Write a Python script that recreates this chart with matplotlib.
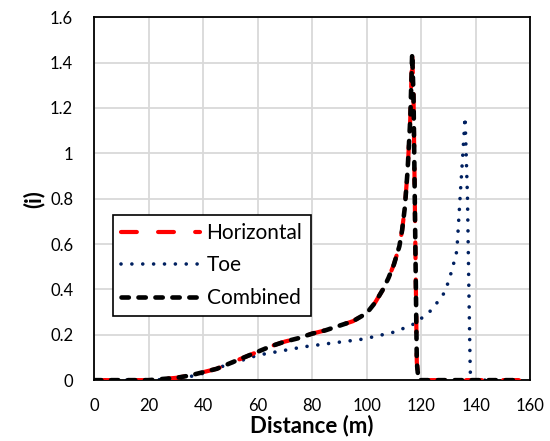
import numpy as np
import matplotlib
matplotlib.use("Agg")
import matplotlib.pyplot as plt

plt.rcParams['font.family'] = ['Lato', 'DejaVu Sans']

# Horizontal / Combined (same curve)
dist_h = [0, 10, 20, 30, 35, 40, 45, 50, 55, 60, 65, 70, 75, 80, 85, 90, 95, 100,
          103, 106, 108, 110, 112, 113, 114, 115, 116, 116.7, 117.2, 117.8, 118.4, 119,
          130, 140, 150, 157]
i_horizontal = [0, 0, 0, 0.01, 0.02, 0.035, 0.05, 0.075, 0.10, 0.125, 0.15, 0.17, 0.185,
                0.205, 0.22, 0.24, 0.26, 0.295, 0.34, 0.40, 0.45, 0.51, 0.59, 0.66, 0.76,
                0.92, 1.15, 1.44, 1.25, 0.66, 0.08, 0, 0, 0, 0, 0]
i_combined = list(i_horizontal)

# Toe
dist_t = [0, 10, 20, 30, 35, 40, 45, 50, 55, 60, 67, 77, 87, 97.6, 102.5, 110.5, 117.8,
          123.9, 128.8, 131.3, 133.1, 134.3, 135.3, 136.1, 137, 137.5, 138, 138.3, 157]
i_toe = [0, 0, 0, 0.005, 0.015, 0.03, 0.05, 0.075, 0.09, 0.11, 0.125, 0.147, 0.163, 0.179,
         0.191, 0.213, 0.25, 0.31, 0.39, 0.485, 0.57, 0.81, 1.0, 1.16, 0.8, 0.4, 0.04, 0, 0]

fig = plt.figure(figsize=(5.5, 4.41), dpi=100)
ax = fig.add_axes([0.171, 0.138, 0.793, 0.823])

ax.plot(dist_h, i_horizontal, color="#ff0000", lw=3, dashes=(3.8, 5.1),
        dash_capstyle="round", label="Horizontal", zorder=3)
ax.plot(dist_t, i_toe, color="#002060", lw=2.6, dashes=(0.01, 3),
        dash_capstyle="round", label="Toe", zorder=2)
ax.plot(dist_h, i_combined, color="black", lw=3.3, dashes=(1.6, 2.1),
        dash_capstyle="round", label="Combined", zorder=4)

ax.set_xlim(0, 160)
ax.set_ylim(0, 1.6)
ax.set_xticks(np.arange(0, 161, 20))
ax.set_yticks(np.arange(0, 1.61, 0.2))
ax.set_yticklabels(["0", "0.2", "0.4", "0.6", "0.8", "1", "1.2", "1.4", "1.6"])
ax.tick_params(axis="x", length=0, labelsize=12, pad=13)
ax.tick_params(axis="y", length=0, labelsize=12, pad=15)
ax.grid(True, color="#d9d9d9", lw=1.3)
ax.set_axisbelow(True)
for s in ax.spines.values():
    s.set_color("black")
    s.set_linewidth(1.3)

ax.set_xlabel("Distance (m)", fontsize=16, fontweight="bold", labelpad=0)
ax.set_ylabel("(i)", fontsize=16, fontweight="bold", labelpad=4)

leg = ax.legend(loc="lower left", bbox_to_anchor=(0.043, 0.176), fontsize=15,
                frameon=True, fancybox=False, edgecolor="black", framealpha=1,
                handlelength=3.8, borderpad=0.4, labelspacing=0.6, handletextpad=0.3,
                borderaxespad=0)
leg.get_frame().set_linewidth(1.2)

fig.savefig("out.png", dpi=100)
